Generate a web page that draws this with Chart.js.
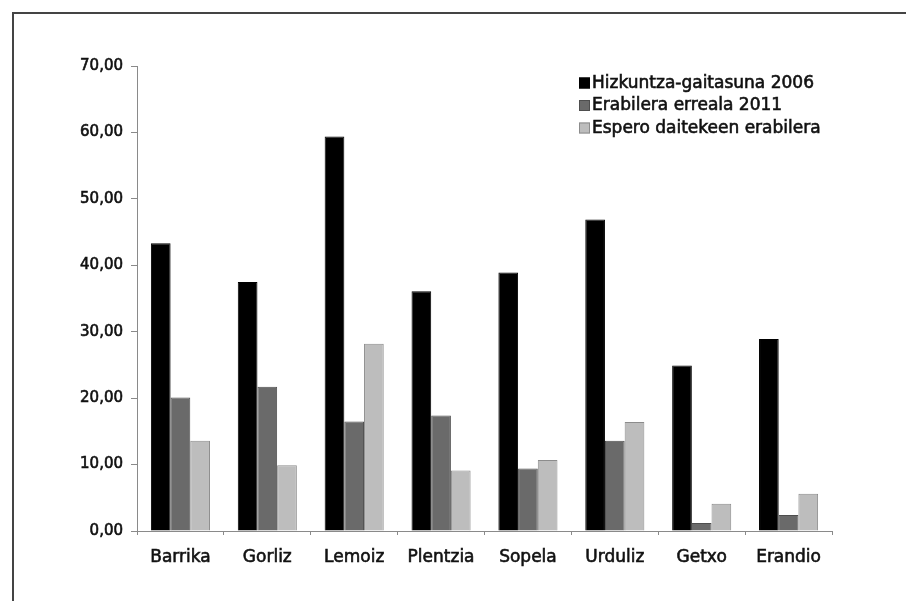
<!DOCTYPE html>
<html>
<head>
<meta charset="utf-8">
<script src="https://cdn.jsdelivr.net/npm/chart.js@4"></script>
<style>
  html, body { margin: 0; padding: 0; background: #fff; overflow: hidden; }
  #wrap { position: relative; width: 906px; height: 601px; }
  #frame { position: absolute; left: 12px; top: 12px; width: 1000px; height: 700px;
           border-left: 2px solid #444; border-top: 2px solid #444; box-sizing: border-box; }
  canvas { position: absolute; left: 0; top: 0; }
</style>
</head>
<body>
<div id="wrap">
  <div id="frame"></div>
  <canvas id="c" width="906" height="601"></canvas>
</div>
<script>
const categories = ["Barrika", "Gorliz", "Lemoiz", "Plentzia", "Sopela", "Urduliz", "Getxo", "Erandio"];
const seriesNames = ["Hizkuntza-gaitasuna 2006", "Erabilera erreala 2011", "Espero daitekeen erabilera"];
const gaitasuna2006 = [43.3, 37.5, 59.4, 36.1, 38.9, 46.9, 24.9, 28.9];
const erabilera2011 = [20.1, 21.7, 16.5, 17.4, 9.4, 13.6, 1.2, 2.4];
const esperoErabilera = [13.6, 9.9, 28.2, 9.1, 10.7, 16.4, 4.1, 5.6];
const yMin = 0, yMax = 70, yStep = 10;

const fills = ["#000000", "#6a6a6a", "#bdbdbd"];
const borders = ["#000000", "#4e4e4e", "#8c8c8c"];

const legendPlugin = {
  id: "boxLegend",
  afterDraw(chart) {
    const ctx = chart.ctx;
    ctx.save();
    ctx.font = "17px 'DejaVu Sans'";
    ctx.textBaseline = "middle";
    chart.data.datasets.forEach((ds, i) => {
      const y = 83 + i * 22.5;
      ctx.fillStyle = ds.backgroundColor;
      ctx.fillRect(579, y - 5.5, 11, 11);
      ctx.strokeStyle = ds.borderColor;
      ctx.lineWidth = 1;
      ctx.strokeRect(579.5, y - 5, 10, 10);
      ctx.fillStyle = "#111";
      ctx.strokeStyle = "#111";
      ctx.lineWidth = 0.6;
      ctx.fillText(ds.label, 592, y + 0.5);
      ctx.strokeText(ds.label, 592, y + 0.5);
    });
    ctx.restore();
  }
};

new Chart(document.getElementById("c"), {
  type: "bar",
  data: {
    labels: categories,
    datasets: [gaitasuna2006, erabilera2011, esperoErabilera].map((d, i) => ({
      label: seriesNames[i],
      data: d,
      backgroundColor: fills[i],
      borderColor: borders[i],
      borderWidth: 1,
      categoryPercentage: 0.68,
      barPercentage: 1.0
    }))
  },
  options: {
    responsive: false,
    animation: false,
    devicePixelRatio: 1,
    layout: { padding: { left: 0, right: 74, top: 66, bottom: 0 } },
    plugins: { legend: { display: false }, tooltip: { enabled: false } },
    scales: {
      x: {
        grid: { display: true, drawOnChartArea: false, offset: true, tickLength: 4, color: "#8a8a8a", lineWidth: 1 },
        border: { display: true, color: "#8a8a8a", width: 1 },
        ticks: { color: "#111", textStrokeColor: "#111", textStrokeWidth: 0.6,
                 font: { family: "DejaVu Sans", size: 17 }, padding: 12, maxRotation: 0 },
        afterFit: s => { s.height = 70; }
      },
      y: {
        min: yMin, max: yMax,
        grid: { display: true, drawOnChartArea: false, tickLength: 6, color: "#8a8a8a", lineWidth: 1 },
        border: { display: true, color: "#8a8a8a", width: 1 },
        ticks: {
          stepSize: yStep,
          color: "#111",
          textStrokeColor: "#111",
          textStrokeWidth: 0.6,
          font: { family: "DejaVu Sans", size: 15 },
          padding: 8,
          callback: v => v.toFixed(2).replace(".", ",")
        },
        afterFit: s => { s.width = 137; }
      }
    }
  },
  plugins: [legendPlugin]
});
</script>
</body>
</html>
